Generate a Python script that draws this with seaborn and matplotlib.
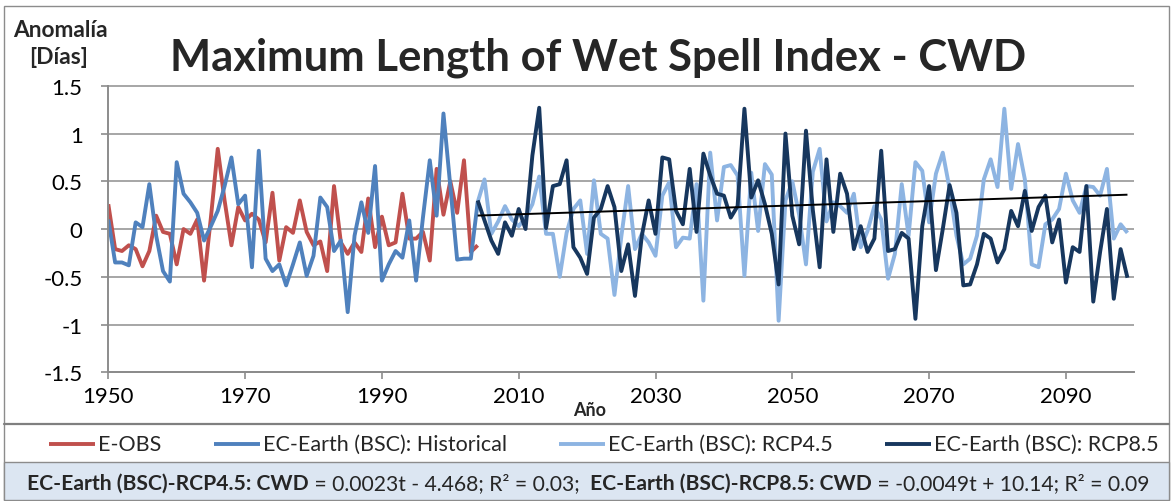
import numpy as np
import pandas as pd
import matplotlib
matplotlib.use("Agg")
import matplotlib.pyplot as plt
from matplotlib.lines import Line2D
from matplotlib.patches import Rectangle
import seaborn as sns

# ---------------------------------------------------------------- data
years_hist = list(range(1950, 2005))
years_rcp = list(range(2004, 2100))

eobs = [
    0.26, -0.21, -0.23, -0.17, -0.21, -0.39, -0.23, 0.14, -0.03, -0.05,
    -0.37, 0.00, -0.05, 0.10, -0.54, 0.12, 0.84, 0.30, -0.17, 0.23,
    0.09, 0.16, 0.10, -0.14, 0.38, -0.33, 0.02, -0.04, 0.30, -0.03,
    -0.17, -0.13, -0.44, 0.45, -0.14, -0.26, -0.14, -0.24, 0.32, -0.19,
    0.13, -0.17, -0.14, 0.37, -0.10, -0.10, -0.03, -0.33, 0.63, 0.15,
    0.50, 0.17, 0.72, -0.24, -0.17,
]
historical = [
    0.10, -0.35, -0.35, -0.38, 0.07, 0.02, 0.47, -0.07, -0.44, -0.55,
    0.70, 0.37, 0.28, 0.17, -0.12, 0.03, 0.19, 0.45, 0.75, 0.26,
    0.35, -0.40, 0.82, -0.31, -0.44, -0.37, -0.59, -0.37, -0.14, -0.49,
    -0.28, 0.33, 0.23, -0.23, -0.12, -0.87, -0.07, 0.28, -0.04, 0.66,
    -0.54, -0.37, -0.23, -0.30, 0.09, -0.54, 0.12, 0.72, 0.14, 1.21,
    0.45, -0.32, -0.31, -0.31, 0.28,
]
rcp45 = [
    0.28, 0.52, -0.05, 0.08, 0.24, 0.10, 0.03, 0.12, 0.26, 0.55,
    -0.05, -0.05, -0.50, -0.04, 0.21, 0.30, -0.26, 0.51, -0.05, -0.10,
    -0.69, -0.08, 0.45, -0.21, -0.05, -0.14, -0.28, 0.35, 0.49, -0.19,
    -0.09, -0.10, 0.47, -0.75, 0.80, 0.09, 0.65, 0.67, 0.56, -0.49,
    0.59, -0.02, 0.68, 0.57, -0.96, 0.30, 0.50, 0.15, -0.37, 0.60,
    0.84, 0.08, 0.28, 0.24, 0.17, 0.37, -0.19, -0.02, 0.24, 0.10,
    -0.52, -0.26, 0.47, -0.07, 0.70, 0.61, 0.07, 0.58, 0.80, 0.42,
    -0.07, -0.37, -0.31, -0.07, 0.52, 0.73, 0.44, 1.26, 0.42, 0.89,
    0.52, -0.37, -0.40, 0.05, 0.10, 0.21, 0.58, 0.30, 0.17, 0.45,
    0.44, 0.35, 0.63, -0.10, 0.05, -0.04,
]
rcp85 = [
    0.30, 0.09, -0.12, -0.26, 0.07, -0.07, 0.21, 0.00, 0.77, 1.27,
    0.01, 0.45, 0.47, 0.72, -0.19, -0.30, -0.47, 0.12, 0.21, 0.45,
    0.23, -0.44, -0.16, -0.70, -0.07, 0.30, -0.05, 0.75, 0.73, 0.19,
    0.05, 0.63, -0.03, 0.79, 0.56, 0.37, 0.35, 0.12, 0.24, 1.26,
    0.33, 0.51, 0.26, -0.05, -0.58, 1.00, 0.14, -0.16, 1.03, 0.20,
    -0.40, 0.73, -0.03, 0.58, 0.37, -0.21, 0.03, -0.24, -0.10, 0.82,
    -0.23, -0.21, -0.04, -0.10, -0.94, 0.03, 0.45, -0.43, 0.00, 0.46,
    0.17, -0.59, -0.58, -0.37, -0.05, -0.10, -0.35, -0.21, 0.19, 0.03,
    0.40, -0.02, 0.23, 0.35, -0.14, 0.10, -0.56, -0.19, -0.24, 0.45,
    -0.76, -0.24, 0.21, -0.73, -0.21, -0.51,
]

series_names = ["E-OBS", "EC-Earth (BSC): Historical",
                "EC-Earth (BSC): RCP4.5", "EC-Earth (BSC): RCP8.5"]
series_colors = ["#C0504D", "#4F81BD", "#8DB4E2", "#17375E"]

# linear trend of the RCP4.5 run
trend_slope = 0.0023
trend_intercept = -4.468

x_ticks = [1950, 1970, 1990, 2010, 2030, 2050, 2070, 2090]
y_ticks = [-1.5, -1.0, -0.5, 0.0, 0.5, 1.0, 1.5]
y_tick_labels = ["-1.5", "-1", "-0.5", "0", "0.5", "1", "1.5"]

title = "Maximum Length of Wet Spell Index - CWD"
y_label_lines = ["Anomalía", "[Días]"]
x_label = "Año"
equation_parts = [
    ("EC-Earth (BSC)-RCP4.5: CWD", "bold"),
    (" = 0.0023t - 4.468; R² = 0.03;  ", "normal"),
    ("EC-Earth (BSC)-RCP8.5: CWD", "bold"),
    (" = -0.0049t + 10.14; R² = 0.09", "normal"),
]

# ---------------------------------------------------------------- frame
frames = []
for name, yrs, vals in zip(series_names,
                           [years_hist, years_hist, years_rcp, years_rcp],
                           [eobs, historical, rcp45, rcp85]):
    frames.append(pd.DataFrame({"year": yrs, "value": vals, "series": name}))
df = pd.concat(frames, ignore_index=True)

trend_df = pd.DataFrame({"year": years_rcp})
trend_df["value"] = trend_slope * trend_df["year"] + trend_intercept

# ---------------------------------------------------------------- style
sns.set_theme(style="white")
plt.rcParams["font.family"] = ["Lato", "DejaVu Sans"]

W, H = 1173, 502
fig = plt.figure(figsize=(W / 100, H / 100), dpi=100)
fig.patch.set_facecolor("white")


def fx(px):
    return px / W


def fy(py):
    return 1 - py / H


grey_axis = "#8C8C8C"
grey_grid = "#A6A6A6"

ax = fig.add_axes([fx(108.3), fy(373.3), fx(1134.3) - fx(108.3), fy(86.8) - fy(373.3)])
ax.set_facecolor("white")

for v in y_ticks:
    ax.axhline(v, color=grey_grid, lw=1.4, zorder=0, clip_on=False)

sns.lineplot(data=df, x="year", y="value", hue="series",
             hue_order=series_names, palette=dict(zip(series_names, series_colors)),
             estimator=None, errorbar=None, linewidth=2.8, legend=False, ax=ax,
             zorder=2)
sns.lineplot(data=trend_df, x="year", y="value", color="black", linewidth=1.4,
             estimator=None, errorbar=None, ax=ax, zorder=3)

for line in ax.lines:
    line.set_solid_joinstyle("round")
    line.set_solid_capstyle("butt")

ax.set_xlim(1950, 2100)
ax.set_ylim(-1.5, 1.5)
ax.set_xticks(x_ticks)
ax.set_xticklabels([str(t) for t in x_ticks])
ax.set_yticks(y_ticks)
ax.set_yticklabels(y_tick_labels)
ax.set_xlabel("")
ax.set_ylabel("")
ax.grid(False)
for side in ("top", "right"):
    ax.spines[side].set_visible(False)
for side in ("left", "bottom"):
    ax.spines[side].set_color(grey_axis)
    ax.spines[side].set_linewidth(1.4)
ax.tick_params(axis="both", direction="out", length=5, width=1.2,
               color=grey_axis, labelsize=16, labelcolor="black")
ax.tick_params(axis="y", pad=13.5)
ax.tick_params(axis="x", pad=5)
ax.tick_params(axis="x", which="both", bottom=True)
ax.tick_params(axis="y", which="both", left=True)

# ---------------------------------------------------------------- chrome
fig.add_artist(Rectangle((fx(4), fy(501)), fx(1169) - fx(4), fy(7) - fy(501),
                         transform=fig.transFigure, fill=False,
                         edgecolor=grey_axis, lw=1.0, zorder=0))
fig.add_artist(Rectangle((fx(4), fy(501)), fx(1169) - fx(4), fy(463) - fy(501),
                         transform=fig.transFigure, facecolor="#DCE6F2",
                         edgecolor=grey_axis, lw=1.0, zorder=0))
fig.add_artist(Line2D([fx(4), fx(1169)], [fy(425), fy(425)],
                      transform=fig.transFigure, color="#7F7F7F", lw=1.6))

renderer = fig.canvas.get_renderer()


def text_width(t):
    return t.get_window_extent(renderer=renderer).width


def fitted(x_px, y_px, s, width_px, size, **kw):
    t = fig.text(fx(x_px), fy(y_px), s, fontsize=size, **kw)
    t.set_fontsize(size * width_px / text_width(t))
    return t


# title
fitted(598, 70, title, 855, 30, fontweight="bold", ha="center", va="baseline")

# y-axis label (two lines)
t0 = fitted(60, 31, y_label_lines[0], 95, 13, fontweight="bold",
            ha="center", va="center")
fig.text(fx(59), fy(58), y_label_lines[1], fontsize=t0.get_fontsize(),
         fontweight="bold", ha="center", va="center")

# x-axis label
fig.text(fx(590), fy(410), x_label, fontsize=13, fontweight="bold",
         ha="center", va="center")

# legend row
leg_y = 445
probe = fig.text(0, 0, series_names[3], fontsize=14)
leg_size = 14 * 225 / text_width(probe)
probe.remove()
line_len, line_gap = 46, 3
widths = []
for name in series_names:
    p = fig.text(0, 0, name, fontsize=leg_size)
    widths.append(text_width(p))
    p.remove()
x_start, x_end = 49, 1159
used = sum(line_len + line_gap + w for w in widths)
gap = (x_end - x_start - used) / (len(series_names) - 1)
x = x_start
for name, color, w in zip(series_names, series_colors, widths):
    fig.add_artist(Line2D([fx(x), fx(x + line_len)], [fy(leg_y), fy(leg_y)],
                          transform=fig.transFigure, color=color, lw=2.8,
                          solid_capstyle="butt"))
    fig.text(fx(x + line_len + line_gap), fy(leg_y), name, fontsize=leg_size,
             ha="left", va="center")
    x += line_len + line_gap + w + gap

# trend equations
eq_y = 484
pieces = []
for s, weight in equation_parts:
    p = fig.text(0, 0, s, fontsize=13, fontweight=weight)
    pieces.append(text_width(p))
    p.remove()
eq_size = 13 * 1120 / sum(pieces)
x = 27
for s, weight in equation_parts:
    t = fig.text(fx(x), fy(eq_y), s, fontsize=eq_size, fontweight=weight,
                 ha="left", va="center")
    x += text_width(t)

fig.savefig("out.png", dpi=100, facecolor="white")
